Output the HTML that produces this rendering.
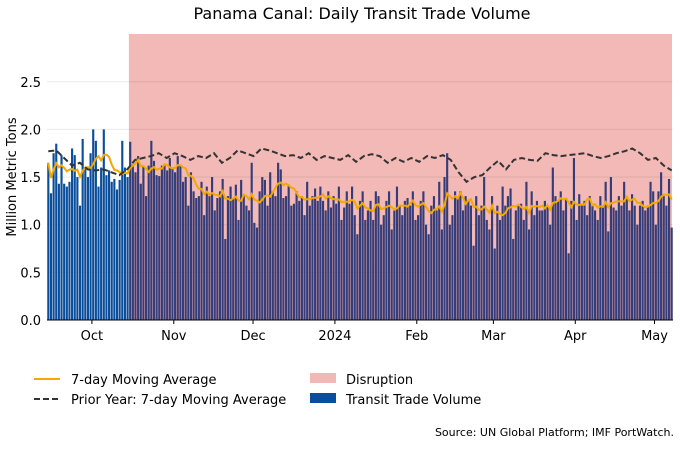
<!DOCTYPE html>
<html><head><meta charset="utf-8"><style>
body{margin:0;background:#fff;}
svg text{font-family:"DejaVu Sans","Liberation Sans",sans-serif;fill:#000;}
</style></head><body>
<svg id="chart" width="680" height="444" xmlns="http://www.w3.org/2000/svg">
<text x="362" y="19" font-size="16" text-anchor="middle">Panama Canal: Daily Transit Trade Volume</text>
<rect id="disruption" fill="#f2b9b6"></rect>
<g id="grid"></g>
<g id="bars"></g>
<g id="lines"></g>
<g id="axes"></g>
<text transform="translate(16,177) rotate(-90)" font-size="13" text-anchor="middle">Million Metric Tons</text>
<g>
<line x1="34" y1="379" x2="60" y2="379" stroke="#f5a800" stroke-width="2"/>
<text x="71" y="384" font-size="13">7-day Moving Average</text>
<line x1="34" y1="399" x2="60" y2="399" stroke="#333" stroke-width="2" stroke-dasharray="6,3"/>
<text x="71" y="404" font-size="13">Prior Year: 7-day Moving Average</text>
<rect x="310" y="373" width="26" height="10" fill="#f2b8b6"/>
<text x="346" y="384" font-size="13">Disruption</text>
<rect x="310" y="393" width="26" height="10" fill="#0a4e9b"/>
<text x="346" y="404" font-size="13">Transit Trade Volume</text>
</g>
<text x="674" y="436" font-size="11" text-anchor="end">Source: UN Global Platform; IMF PortWatch.</text>
</svg>
<script>
const volume=[1.65,1.33,1.75,1.85,1.43,1.73,1.43,1.40,1.45,1.80,1.73,1.50,1.20,1.90,1.60,1.50,1.75,
2.00,1.88,1.40,1.60,2.00,1.52,1.57,1.45,1.48,1.37,1.47,1.88,1.60,1.50,
1.87,1.63,1.55,1.72,1.43,1.62,1.30,1.62,1.88,1.67,1.52,1.51,1.62,1.62,1.57,1.70,1.60,
1.55,1.72,1.62,1.45,1.50,1.20,1.55,1.35,1.28,1.30,1.45,1.10,1.40,1.30,1.50,1.15,1.28,1.35,1.48,0.85,1.30,1.40,1.27,1.42,1.05,1.47,1.30,1.20,1.15,1.65,
1.02,0.97,1.35,1.50,1.47,1.20,1.55,1.35,1.30,1.65,1.58,1.28,1.30,1.42,1.20,1.22,1.35,1.25,1.30,1.10,1.45,1.20,1.30,1.38,1.25,1.40,1.25,1.15,1.35,1.18,1.30,
1.22,1.40,1.05,1.18,1.35,1.22,1.40,1.10,0.90,1.25,1.35,1.05,1.15,1.25,1.05,1.35,1.30,1.00,1.10,1.25,1.35,0.95,1.15,1.40,1.20,1.10,1.25,1.28,1.20,1.35,1.05,
1.10,1.25,1.35,1.00,0.90,1.20,1.30,1.15,1.45,0.95,1.50,1.75,1.00,1.10,1.35,1.28,1.35,1.15,1.30,1.25,1.20,0.78,1.30,1.10,1.20,1.50,1.05,0.95,1.30,
0.75,1.20,1.05,1.40,1.20,1.30,1.38,0.85,1.15,1.20,1.22,1.05,1.45,0.95,1.35,1.10,1.25,1.15,1.15,1.25,1.20,1.00,1.60,1.30,1.25,1.35,1.15,1.28,0.70,1.25,1.70,
1.05,1.32,1.20,1.25,1.10,1.30,1.20,1.15,1.05,1.30,1.20,1.45,0.93,1.50,1.18,1.15,1.30,1.20,1.45,1.28,1.15,1.32,1.20,1.00,1.20,1.25,1.15,1.20,1.45,1.35,
1.00,1.35,1.55,1.30,1.20,1.48,0.97];
const priorYearMA=[1.77,1.78,1.70,1.62,1.65,1.58,1.57,1.58,1.55,1.52,1.58,1.68,1.70,1.72,1.75,1.70,1.75,1.72,1.68,1.72,1.70,1.75,1.65,1.70,1.78,1.75,1.72,1.80,1.78,1.75,1.72,1.73,1.70,1.75,1.68,1.72,1.70,1.68,1.73,1.66,1.72,1.74,1.72,1.65,1.70,1.66,1.70,1.66,1.72,1.70,1.73,1.68,1.55,1.45,1.50,1.52,1.60,1.67,1.58,1.68,1.70,1.68,1.67,1.75,1.73,1.72,1.73,1.74,1.75,1.72,1.70,1.72,1.75,1.77,1.80,1.75,1.68,1.70,1.62,1.57];
const yTicks=[0,0.5,1.0,1.5,2.0,2.5];
const yTickLabels=["0.0","0.5","1.0","1.5","2.0","2.5"];
const monthLabels=["Oct","Nov","Dec","2024","Feb","Mar","Apr","May"];
const monthStartIdx=[17,48,78,109,140,169,200,230];
const disruptionStartIdx=31;

const NS="http://www.w3.org/2000/svg";
const L=47,R=673,T=34,B=320,n=volume.length,bw=(R-L)/n;
const xs=i=>L+i*bw;
const ys=v=>B-v*95.3;
function mk(tag,attrs,parent){const e=document.createElementNS(NS,tag);for(const k in attrs)e.setAttribute(k,attrs[k]);parent.appendChild(e);return e;}
const grid=document.getElementById('grid'),bars=document.getElementById('bars'),lines=document.getElementById('lines'),axes=document.getElementById('axes');
const d=document.getElementById('disruption');
d.setAttribute('x',xs(disruptionStartIdx));d.setAttribute('y',T);d.setAttribute('width',R-1-xs(disruptionStartIdx));d.setAttribute('height',B-T);
yTicks.forEach((v,k)=>{
  const g=mk('line',{x1:L,x2:R,y1:ys(v),y2:ys(v),stroke:'#000','stroke-opacity':0.08,'stroke-width':1},grid);
  
  
  const t=mk('text',{x:L-6,y:ys(v)+5,'font-size':13,'text-anchor':'end'},axes);
  t.textContent=yTickLabels[k];
  
  
});
volume.forEach((v,i)=>{
  const r=mk('rect',{x:xs(i)+0.25,y:ys(v),width:bw-0.5,height:B-ys(v),fill:i<disruptionStartIdx?'#0a4e9b':'#363c78'},bars);
  
  
});
let pts=[];
volume.forEach((v,i)=>{const s=volume.slice(Math.max(0,i-6),i+1);const m=s.reduce((a,b)=>a+b,0)/s.length;pts.push(xs(i+0.5).toFixed(1)+','+ys(m).toFixed(1));});
const ma=mk('polyline',{points:pts.join(' '),fill:'none',stroke:'#f5a800','stroke-width':2},lines);


let pp=priorYearMA.map((v,k)=>xs(0.5+k*(n-1)/(priorYearMA.length-1)).toFixed(1)+','+ys(v).toFixed(1));
const py=mk('polyline',{points:pp.join(' '),fill:'none',stroke:'#333','stroke-width':2,'stroke-dasharray':'6,3'},lines);


const ax=mk('line',{x1:L,x2:R,y1:B,y2:B,stroke:'#000','stroke-width':1},axes);


monthLabels.forEach((m,k)=>{
  const x=xs(monthStartIdx[k]);
  const tk=mk('line',{x1:x,x2:x,y1:B,y2:B+4,stroke:'#000'},axes);
  
  
  const t=mk('text',{x:x,y:B+20,'font-size':13,'text-anchor':'middle'},axes);
  t.textContent=m;
  
  
});
</script>
</body></html>
